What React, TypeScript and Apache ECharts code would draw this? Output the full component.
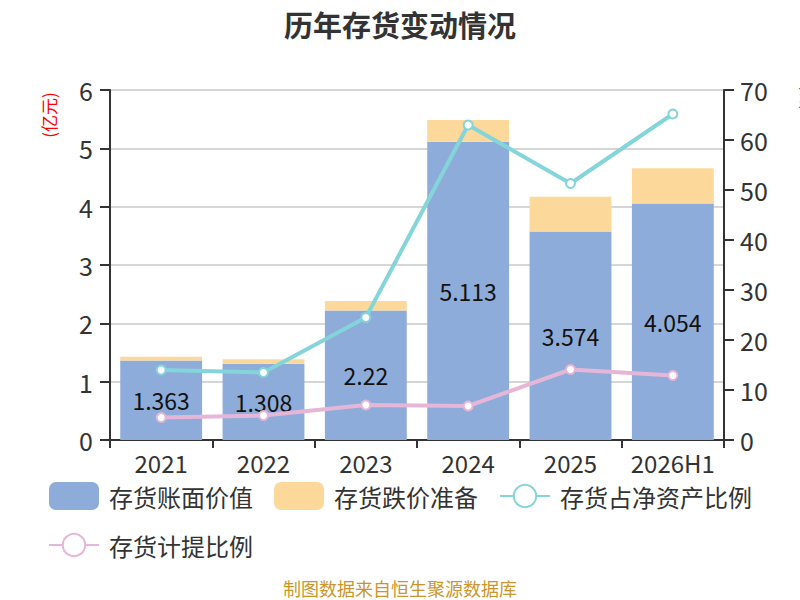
import React, { useEffect, useRef } from "react";
import * as echarts from "echarts";

const categories = ["2021", "2022", "2023", "2024", "2025", "2026H1"];
const bookValue = [1.363, 1.308, 2.22, 5.113, 3.574, 4.054];
const impairment = [0.065, 0.075, 0.165, 0.373, 0.596, 0.603];
const ratioNetAssets = [14.0, 13.5, 24.5, 63.0, 51.3, 65.2];
const provisionRatio = [4.5, 4.9, 7.0, 6.8, 14.1, 12.9];

const FONT = "'Noto Sans CJK SC', 'Noto Sans', sans-serif";

export default function App() {
  const ref = useRef<HTMLDivElement>(null);
  useEffect(() => {
    document.body.style.margin = "0";
    const chart = echarts.init(ref.current!, null, { renderer: "svg" });
    chart.setOption({
      animation: false,
      backgroundColor: "#fff",
      textStyle: { fontFamily: FONT },
      title: {
        text: "历年存货变动情况",
        left: "center",
        top: 4,
        textStyle: { fontSize: 29, fontWeight: "bold", color: "#333", fontFamily: FONT },
      },
      grid: { left: 110, right: 76, top: 90, bottom: 160, containLabel: false },
      legend: {
        top: 477,
        left: "center",
        itemWidth: 50,
        itemHeight: 28,
        itemGap: 21,
        textStyle: { fontSize: 24, color: "#333", fontFamily: FONT, padding: [0, 0, 0, 5] },
        data: ["存货账面价值", "存货跌价准备", "存货占净资产比例", "存货计提比例"],
      },
      xAxis: {
        type: "category",
        data: categories,
        axisLine: { lineStyle: { color: "#333", width: 2 } },
        axisTick: { show: true, length: 8, lineStyle: { color: "#333", width: 2 } },
        axisLabel: { fontSize: 24, lineHeight: 24, color: "#333", margin: 10, interval: 0 },
      },
      yAxis: [
        {
          type: "value",
          min: 0,
          max: 6,
          interval: 1,
          axisLine: { show: true, lineStyle: { color: "#333", width: 2 } },
          axisTick: { show: true, length: 10, lineStyle: { color: "#333", width: 2 } },
          axisLabel: { fontSize: 25, color: "#333", margin: 17 },
          splitLine: { show: true, lineStyle: { color: "#c8c8c8", width: 1.5 } },
        },
        {
          type: "value",
          min: 0,
          max: 70,
          interval: 10,
          axisLine: { show: true, lineStyle: { color: "#333", width: 2 } },
          axisTick: { show: true, length: 10, lineStyle: { color: "#333", width: 2 } },
          axisLabel: { fontSize: 25, color: "#333", margin: 16 },
          splitLine: { show: false },
        },
      ],
      graphic: [
        {
          type: "text",
          x: 48,
          y: 115,
          rotation: Math.PI / 2,
          style: {
            text: "(亿元)",
            fill: "#ff0000",
            fontSize: 17,
            fontFamily: FONT,
            align: "center",
            verticalAlign: "middle",
          },
        },
        {
          type: "text",
          x: 805,
          y: 98,
          rotation: Math.PI / 2,
          style: {
            text: "(%)",
            fill: "#ff0000",
            fontSize: 17,
            fontFamily: FONT,
            align: "center",
            verticalAlign: "middle",
          },
        },
        {
          type: "text",
          x: 400,
          y: 588,
          style: {
            text: "制图数据来自恒生聚源数据库",
            fill: "#c9962e",
            fontSize: 18,
            fontFamily: FONT,
            align: "center",
            verticalAlign: "middle",
          },
        },
      ],
      series: [
        {
          name: "存货账面价值",
          type: "bar",
          stack: "inv",
          barCategoryGap: "20%",
          data: bookValue,
          itemStyle: { color: "#8eacd9" },
          label: {
            show: true,
            position: "inside",
            fontSize: 23,
            color: "#111",
            fontFamily: FONT,
          },
        },
        {
          name: "存货跌价准备",
          type: "bar",
          stack: "inv",
          data: impairment,
          itemStyle: { color: "#fdd89b" },
        },
        {
          name: "存货占净资产比例",
          type: "line",
          yAxisIndex: 1,
          data: ratioNetAssets,
          symbol: "emptyCircle",
          symbolSize: 9,
          lineStyle: { color: "#84d5d9", width: 4 },
          itemStyle: { color: "#84d5d9", borderWidth: 2 },
        },
        {
          name: "存货计提比例",
          type: "line",
          yAxisIndex: 1,
          data: provisionRatio,
          symbol: "emptyCircle",
          symbolSize: 9,
          lineStyle: { color: "#e6b6d9", width: 4 },
          itemStyle: { color: "#e6b6d9", borderWidth: 2 },
        },
      ],
    });
    return () => chart.dispose();
  }, []);
  return <div ref={ref} style={{ width: 800, height: 600 }} />;
}
